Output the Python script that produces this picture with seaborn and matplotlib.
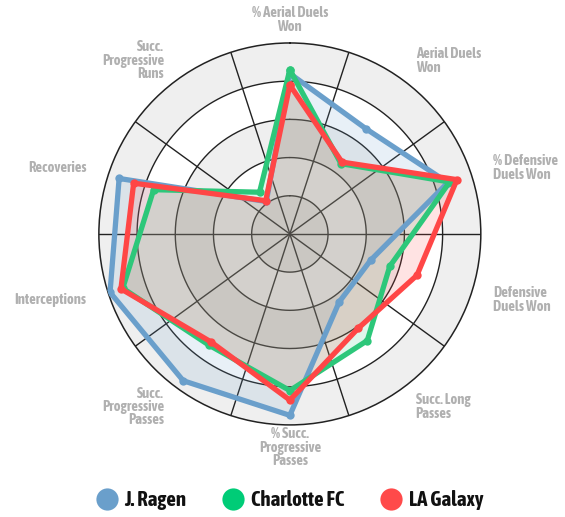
import numpy as np
import matplotlib
matplotlib.use("Agg")
import matplotlib.pyplot as plt
from matplotlib import font_manager
from matplotlib.lines import Line2D
import seaborn as sns

# data (0-100 scale)
categories = ["% Aerial Duels\nWon", "Aerial Duels\nWon", "% Defensive\nDuels Won",
              "Defensive\nDuels Won", "Succ. Long\nPasses", "% Succ.\nProgressive\nPasses",
              "Succ.\nProgressive\nPasses", "Interceptions", "Recoveries",
              "Succ.\nProgressive\nRuns"]
ragen = [84, 68, 87, 44.5, 44, 95, 95, 99, 94, 21]
charlotte = [86, 45.5, 88, 55, 69, 82, 72, 92, 75, 27]
galaxy = [78, 46.5, 92, 70, 61, 87, 70, 93, 86, 21.5]
series_names = ["J. Ragen", "Charlotte FC", "LA Galaxy"]
line_colors = ["#6a9fcb", "#2dc77a", "#ff4646"]
legend_colors = ["#6a9fcb", "#00cc77", "#ff4a4a"]


def wt(w):
    if isinstance(w, str):
        return {"bold": 700, "heavy": 800, "black": 900, "semibold": 600,
                "demibold": 600}.get(w.lower(), 400)
    return w


# narrow bold font if there is one
bold_narrow = [f for f in font_manager.fontManager.ttflist
               if ("Narrow" in f.name or "Condensed" in f.name) and wt(f.weight) >= 600]
bold_narrow.sort(key=lambda f: (wt(f.weight) != 700, len(f.name)))
if bold_narrow:
    fam = bold_narrow[0].name
    font_file = bold_narrow[0].fname
else:
    fam = "DejaVu Sans"
    font_file = None


def fp(size):
    if font_file:
        return font_manager.FontProperties(fname=font_file, size=size)
    return font_manager.FontProperties(family=fam, weight="bold", size=size * 0.85)


sns.set_style("white")
plt.rcParams["font.family"] = [fam, "DejaVu Sans"]

fig = plt.figure(figsize=(5.65, 5.17), dpi=100)
ax = fig.add_axes([0.175, 0.178, 0.676, 0.739], projection="polar")
ax.set_theta_offset(np.pi / 2)
ax.set_theta_direction(-1)
ax.set_ylim(0, 100)
ax.set_facecolor("white")
ax.grid(False)
ax.set_xticks([])
ax.set_yticks([])

n = len(categories)
angles = [2 * np.pi * i / n for i in range(n)]

# alternating rings
for i, r0 in enumerate([80, 60, 40, 20, 0]):
    ax.bar(0, 20, width=2 * np.pi, bottom=r0, color="#efefef" if i % 2 == 0 else "white",
           linewidth=0, zorder=0)

# grid: circles + radial lines between categories
full = np.linspace(0, 2 * np.pi, 361)
for r in [20, 40, 60, 80]:
    ax.plot(full, [r] * len(full), color="#222222", lw=1.0, zorder=1)
for a in angles:
    ax.plot([a + np.pi / n] * 2, [0, 100], color="#222222", lw=1.0, zorder=1)
ax.spines["polar"].set_color("#222222")
ax.spines["polar"].set_linewidth(1.1)

# series
for vals, col in zip([ragen, charlotte, galaxy], line_colors):
    th = angles + [2 * np.pi]
    vv = vals + vals[:1]
    ax.fill(th, vv, color=col, alpha=0.15, lw=0, zorder=2)
    sns.lineplot(x=th, y=vv, ax=ax, sort=False, estimator=None, color=col, lw=3.8,
                 marker="o", markersize=6, markeredgewidth=0, zorder=3)
ax.set_xlabel("")
ax.set_ylabel("")
ax.set_ylim(0, 100)

# category labels
for a, lab in zip(angles, categories):
    s = np.sin(a)
    ha = "left" if s > 0.1 else ("right" if s < -0.1 else "center")
    ax.text(a, 112, lab, ha=ha, va="center", multialignment=ha, fontproperties=fp(10.5),
            color="#b0b0b0", linespacing=0.95)

handles = [Line2D([], [], ls="", marker="o", markersize=16, markerfacecolor=c,
                  markeredgewidth=0) for c in legend_colors]
leg = fig.legend(handles, series_names, loc="center", bbox_to_anchor=(0.513, 0.032), ncol=3,
                 frameon=False, handlelength=1.0, handletextpad=0.35, columnspacing=1.75,
                 prop=fp(15))
for t in leg.get_texts():
    t.set_color("#111111")

fig.savefig("out.png", dpi=100)
